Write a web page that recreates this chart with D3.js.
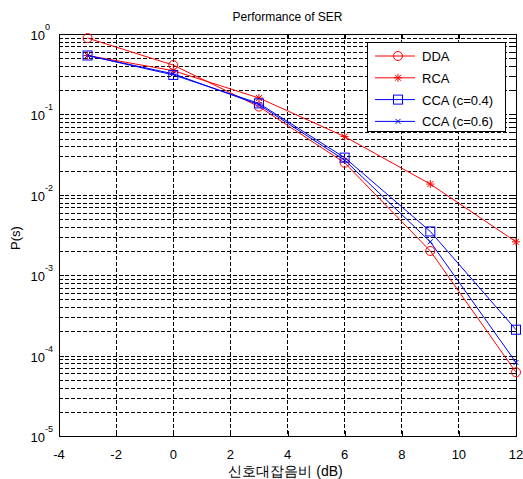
<!DOCTYPE html>
<html><head><meta charset="utf-8">
<script src="https://cdn.jsdelivr.net/npm/d3@7"></script>
<style>
body{margin:0;background:#fff;}
text{font-family:"Liberation Sans",Arial,sans-serif;}
</style></head>
<body><svg id="c" width="523" height="479"></svg>
<script>
const snr = [-3, 0, 3, 6, 9, 12];
const dda = [0.89, 0.41, 0.125, 0.025, 0.0020, 6.2e-5];
const rca = [0.54, 0.35, 0.16, 0.053, 0.0136, 0.0026];
const cca04 = [0.54, 0.31, 0.137, 0.029, 0.0035, 0.00021];
const cca06 = [0.54, 0.32, 0.132, 0.027, 0.0026, 8.2e-5];
const seriesNames = ["DDA", "RCA", "CCA (c=0.4)", "CCA (c=0.6)"];
const xTicks = [-4, -2, 0, 2, 4, 6, 8, 10, 12];
const yExps = [0, -1, -2, -3, -4, -5];
const titleText = "Performance of SER";
const xLabel = "신호대잡음비 (dB)";
const yLabel = "P(s)";

const svg = d3.select("#c");
const L = 59, R = 516, T = 34, B = 436;
const x = d3.scaleLinear().domain([-4, 12]).range([L, R]);
const y = d3.scaleLog().domain([1e-5, 1]).range([B, T]);

const minorVals = [];
for (let e = -5; e < 0; e++) for (let m = 2; m <= 9; m++) minorVals.push(m * Math.pow(10, e));
const majorVals = yExps.map(e => Math.pow(10, e));

const g = svg.append("g");
const dash = "4,2";
g.selectAll(".vg").data(xTicks.slice(1, -1)).enter().append("line")
  .attr("x1", d => x(d)).attr("x2", d => x(d)).attr("y1", T).attr("y2", B)
  .attr("stroke", "#000").attr("stroke-width", 1).attr("stroke-dasharray", dash).attr("shape-rendering", "crispEdges");
g.selectAll(".hg").data(minorVals.concat(majorVals.slice(1, -1))).enter().append("line")
  .attr("x1", L).attr("x2", R).attr("y1", d => Math.round(y(d)) + 0.5).attr("y2", d => Math.round(y(d)) + 0.5)
  .attr("stroke", "#000").attr("stroke-width", 1).attr("stroke-dasharray", dash).attr("shape-rendering", "crispEdges");

const axB = d3.axisBottom(x).tickValues(xTicks).tickSize(-5).tickFormat("");
const axT = d3.axisTop(x).tickValues(xTicks).tickSize(-5).tickFormat("");
svg.append("g").attr("transform", `translate(0,${B})`).call(axB);
svg.append("g").attr("transform", `translate(0,${T})`).call(axT);
const axL = d3.axisLeft(y).tickValues(majorVals).tickSize(-5).tickFormat("");
const axR = d3.axisRight(y).tickValues(majorVals).tickSize(-5).tickFormat("");
const axLm = d3.axisLeft(y).tickValues(minorVals).tickSize(-3).tickFormat("");
const axRm = d3.axisRight(y).tickValues(minorVals).tickSize(-3).tickFormat("");
svg.append("g").attr("transform", `translate(${L},0)`).call(axL);
svg.append("g").attr("transform", `translate(${R},0)`).call(axR);
svg.append("g").attr("transform", `translate(${L},0)`).call(axLm);
svg.append("g").attr("transform", `translate(${R},0)`).call(axRm);
svg.selectAll(".domain").attr("stroke", "#000").attr("shape-rendering", "crispEdges");
svg.selectAll(".tick line").attr("stroke", "#000").attr("shape-rendering", "crispEdges");

svg.selectAll(".xl").data(xTicks).enter().append("text")
  .attr("x", d => x(d)).attr("y", 459).attr("text-anchor", "middle")
  .attr("font-size", 13).attr("fill", "#000").text(d => d);
const yl = svg.selectAll(".yl").data(yExps).enter().append("text")
  .attr("x", 45).attr("y", d => y(Math.pow(10, d)) + 6).attr("text-anchor", "end")
  .attr("font-size", 13).attr("fill", "#000");
yl.append("tspan").text("10");
svg.selectAll(".ys").data(yExps).enter().append("text")
  .attr("x", 45).attr("y", d => y(Math.pow(10, d)) - 4).attr("text-anchor", "start")
  .attr("font-size", 9).attr("fill", "#000").text(d => d);

svg.append("text").attr("x", (L + R) / 2).attr("y", 21).attr("text-anchor", "middle")
  .attr("font-size", 12).text(titleText);
svg.append("text").attr("x", (L + R) / 2 - 2).attr("y", 476).attr("text-anchor", "middle")
  .attr("font-size", 14).text(xLabel);
svg.append("text").attr("transform", "translate(20,238) rotate(-90)").attr("text-anchor", "middle")
  .attr("font-size", 13).text(yLabel);

function marker(sel, type, color) {
  if (type === "circle") sel.append("circle").attr("r", 4.5).attr("fill", "none").attr("stroke", color);
  else if (type === "square") sel.append("rect").attr("x", -4.5).attr("y", -4.5).attr("width", 9).attr("height", 9).attr("fill", "none").attr("stroke", color);
  else if (type === "star") sel.append("path").attr("d", "M-4,0H4M0,-4V4M-3,-3L3,3M-3,3L3,-3").attr("stroke", color).attr("fill", "none");
  else if (type === "x") sel.append("path").attr("d", "M-2.5,-2.5L2.5,2.5M-2.5,2.5L2.5,-2.5").attr("stroke", color).attr("fill", "none");
}

const series = [
  {name: seriesNames[0], vals: dda, color: "#ff0000", m: "circle"},
  {name: seriesNames[1], vals: rca, color: "#ff0000", m: "star"},
  {name: seriesNames[2], vals: cca04, color: "#0000ff", m: "square"},
  {name: seriesNames[3], vals: cca06, color: "#0000ff", m: "x"}
];
const line = d3.line().x((d, i) => x(snr[i])).y(d => y(d));
series.forEach(s => {
  svg.append("path").datum(s.vals).attr("d", line).attr("fill", "none")
    .attr("stroke", s.color).attr("stroke-width", 1);
  svg.selectAll(null).data(s.vals).enter().append("g")
    .attr("transform", (d, i) => `translate(${x(snr[i])},${y(d)})`)
    .each(function () { marker(d3.select(this), s.m, s.color); });
});

const lg = svg.append("g");
lg.append("rect").attr("x", 367.5).attr("y", 42.5).attr("width", 138).attr("height", 89)
  .attr("fill", "#fff").attr("stroke", "#000");
series.forEach((s, i) => {
  const yy = 56 + i * 21.8;
  lg.append("line").attr("x1", 375).attr("x2", 415).attr("y1", yy).attr("y2", yy).attr("stroke", s.color);
  const mg = lg.append("g").attr("transform", `translate(398,${yy})`);
  marker(mg, s.m, s.color);
  lg.append("text").attr("x", 422).attr("y", yy + 5).attr("font-size", 13).text(s.name);
});
</script></body></html>
